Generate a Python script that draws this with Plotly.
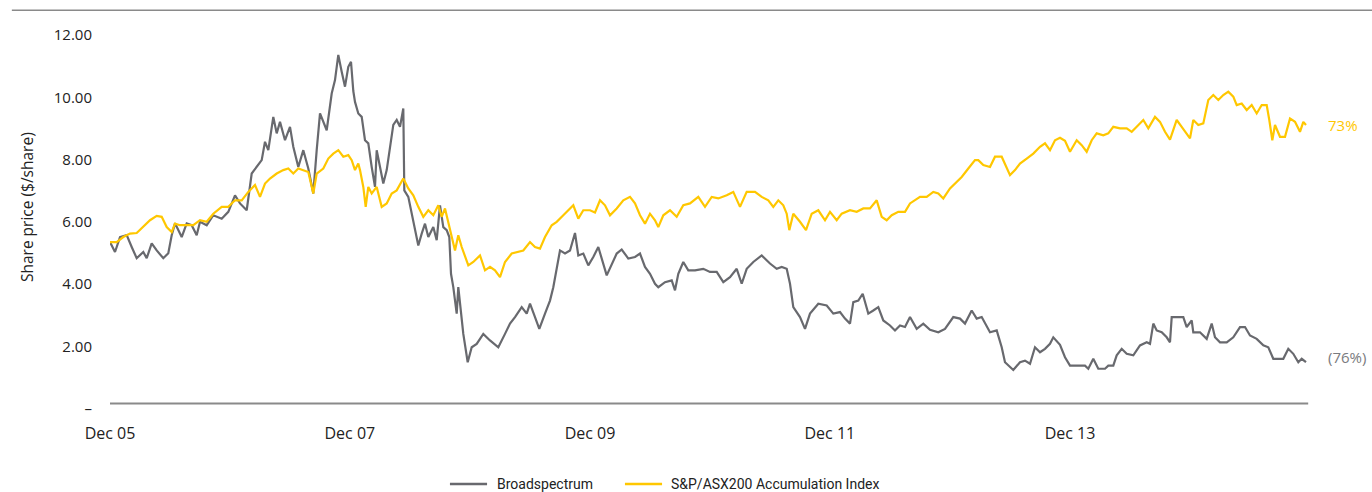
import pandas as pd
import plotly.graph_objects as go

# (months since Dec 2005, share price $/share)
broadspectrum = [
    (0, 5.35), (0.5, 5.03), (1.0, 5.51), (1.67, 5.57), (2.17, 5.19), (2.67, 4.83), (3.33, 5.03), (3.67, 4.83),
    (4.17, 5.31), (4.67, 5.08), (5.33, 4.83), (5.83, 4.99), (6.17, 5.57), (6.5, 5.95), (7.17, 5.51), (7.67, 5.95),
    (8.17, 5.89), (8.67, 5.57), (9.0, 6.00), (9.67, 5.89), (10.33, 6.21), (11.17, 6.10), (11.83, 6.32), (12.5, 6.85),
    (13.0, 6.59), (13.67, 6.37), (14.17, 7.55), (14.67, 7.76), (15.17, 7.98), (15.5, 8.57), (15.83, 8.30), (16.33, 9.37),
    (16.67, 8.84), (17.0, 9.21), (17.5, 8.62), (18.0, 9.05), (18.33, 8.41), (18.83, 7.76), (19.33, 8.30), (19.83, 7.71),
    (20.33, 6.91), (20.67, 8.30), (21.0, 9.48), (21.67, 8.94), (22.17, 10.12), (22.5, 10.55), (22.83, 11.36), (23.17, 10.82),
    (23.5, 10.34), (23.83, 10.98), (24.1, 11.14), (24.33, 10.2), (24.5, 9.85), (24.83, 9.48), (25.17, 9.37), (25.5, 8.62),
    (25.83, 8.52), (26.17, 7.76), (26.5, 7.12), (26.67, 8.30), (27.0, 7.76), (27.33, 7.23), (27.67, 7.66), (28.0, 8.41),
    (28.33, 9.11), (28.67, 9.27), (29.0, 9.05), (29.33, 9.64), (29.43, 7.01), (29.83, 6.80), (30.17, 6.26), (30.5, 5.67),
    (30.83, 5.24), (31.17, 5.62), (31.5, 5.94), (31.83, 5.51), (32.33, 5.83), (32.67, 5.41), (33.0, 6.53), (33.33, 5.83),
    (33.67, 5.73), (33.93, 5.51), (34.1, 4.33), (34.33, 3.90), (34.67, 3.05), (34.83, 3.90), (35.0, 3.37), (35.33, 2.40),
    (35.77, 1.49), (36.17, 1.97), (36.67, 2.08), (37.33, 2.40), (38.0, 2.19), (38.83, 1.97), (39.5, 2.40), (40.0, 2.73),
    (40.5, 2.94), (41.17, 3.26), (41.67, 3.05), (42.0, 3.37), (42.5, 2.94), (42.93, 2.56), (43.5, 3.05), (44.0, 3.47),
    (44.33, 3.90), (44.67, 4.55), (45.0, 5.08), (45.5, 4.98), (46.0, 5.08), (46.5, 5.64), (46.83, 4.92), (47.33, 4.98),
    (47.83, 4.60), (48.33, 4.87), (48.83, 5.19), (49.67, 4.28), (50.17, 4.66), (50.67, 4.98), (51.17, 5.11), (51.83, 4.82),
    (52.5, 4.87), (53.0, 4.98), (53.5, 4.55), (54.0, 4.33), (54.5, 4.01), (54.83, 3.90), (55.5, 4.06), (56.17, 4.12),
    (56.5, 3.80), (56.83, 4.33), (57.33, 4.71), (57.83, 4.44), (58.5, 4.44), (59.33, 4.49), (60.0, 4.39), (60.67, 4.39),
    (61.33, 4.06), (62.0, 4.22), (62.67, 4.49), (63.17, 4.01), (63.67, 4.49), (64.33, 4.71), (65.17, 4.92), (66.0, 4.66),
    (66.67, 4.49), (67.17, 4.55), (67.67, 4.49), (68.0, 4.01), (68.33, 3.26), (69.0, 2.94), (69.5, 2.56), (70.0, 3.05),
    (70.83, 3.37), (71.67, 3.31), (72.33, 3.05), (73.0, 3.10), (73.5, 2.89), (74.0, 2.73), (74.33, 3.42), (74.83, 3.47),
    (75.27, 3.69), (75.83, 3.05), (76.33, 3.15), (76.83, 3.26), (77.33, 2.83), (78.0, 2.67), (78.5, 2.51), (79.0, 2.67),
    (79.5, 2.62), (80.0, 2.94), (80.67, 2.56), (81.33, 2.73), (82.0, 2.53), (82.83, 2.45), (83.5, 2.56), (84.33, 2.94),
    (85.0, 2.89), (85.5, 2.73), (86.17, 3.15), (86.67, 2.89), (87.17, 2.94), (88.0, 2.45), (88.67, 2.51), (89.17, 1.97),
    (89.5, 1.49), (90.33, 1.24), (91.0, 1.49), (91.5, 1.54), (92.0, 1.44), (92.5, 1.97), (93.0, 1.81), (93.5, 1.92),
    (94.0, 2.08), (94.33, 2.29), (95.0, 2.05), (95.5, 1.65), (96.0, 1.38), (97.5, 1.38), (97.83, 1.28), (98.33, 1.60),
    (98.83, 1.28), (99.5, 1.28), (99.83, 1.38), (100.33, 1.38), (100.67, 1.71), (101.17, 1.92), (101.67, 1.76), (102.33, 1.71),
    (103.0, 2.03), (103.67, 2.13), (104.0, 2.08), (104.33, 2.73), (104.67, 2.51), (105.17, 2.45), (105.67, 2.29), (106.0, 2.13),
    (106.17, 2.94), (107.33, 2.94), (107.67, 2.62), (108.17, 2.83), (108.33, 2.45), (109.0, 2.45), (109.67, 2.24), (110.17, 2.73),
    (110.5, 2.29), (111.0, 2.13), (111.67, 2.13), (112.33, 2.29), (113.0, 2.62), (113.5, 2.62), (114.0, 2.35), (114.67, 2.24),
    (115.33, 2.03), (115.83, 1.97), (116.33, 1.60), (117.33, 1.60), (117.83, 1.92), (118.33, 1.76), (118.83, 1.49), (119.17, 1.60),
    (119.6, 1.49),
]

# (months since Dec 2005, S&P/ASX200 Accumulation Index rebased to $/share)
asx200 = [
    (0, 5.35), (0.67, 5.35), (1.33, 5.51), (2.0, 5.62), (2.67, 5.64), (3.33, 5.83), (4.0, 6.05), (4.67, 6.19),
    (5.17, 6.16), (5.67, 5.83), (6.17, 5.67), (6.5, 5.94), (7.0, 5.89), (7.67, 5.89), (8.33, 5.89), (9.0, 6.05),
    (9.67, 6.00), (10.33, 6.26), (11.17, 6.48), (11.83, 6.48), (12.5, 6.69), (13.17, 6.69), (13.83, 6.96), (14.5, 7.18),
    (15.0, 6.80), (15.5, 7.23), (16.0, 7.39), (16.67, 7.55), (17.33, 7.66), (17.83, 7.71), (18.33, 7.55), (18.83, 7.71),
    (19.33, 7.66), (19.83, 7.60), (20.33, 6.91), (20.67, 7.55), (21.33, 7.71), (21.83, 8.03), (22.33, 8.19), (22.83, 8.30),
    (23.33, 8.09), (23.83, 8.14), (24.17, 7.98), (24.5, 7.66), (24.83, 7.87), (25.0, 7.66), (25.33, 7.12), (25.57, 6.48),
    (25.83, 7.12), (26.17, 6.91), (26.67, 7.12), (27.17, 6.48), (27.67, 6.59), (28.17, 6.91), (28.67, 7.01), (29.33, 7.39),
    (29.83, 7.07), (30.33, 6.85), (30.83, 6.48), (31.33, 6.16), (31.83, 6.37), (32.33, 6.21), (32.83, 6.53), (33.17, 6.16),
    (33.5, 6.43), (33.83, 6.00), (34.17, 5.51), (34.5, 5.08), (34.83, 5.57), (35.17, 5.19), (35.83, 4.60), (36.33, 4.71),
    (37.0, 4.92), (37.5, 4.44), (38.0, 4.55), (38.5, 4.44), (39.0, 4.22), (39.5, 4.71), (40.17, 4.98), (40.83, 5.03),
    (41.33, 5.08), (42.0, 5.35), (42.5, 5.19), (43.0, 5.14), (43.5, 5.51), (44.17, 5.89), (44.67, 6.00), (45.33, 6.21),
    (45.83, 6.37), (46.33, 6.53), (46.83, 6.10), (47.33, 6.37), (48.0, 6.37), (48.5, 6.30), (49.0, 6.69), (49.5, 6.53),
    (50.0, 6.21), (50.67, 6.43), (51.33, 6.69), (52.0, 6.80), (52.5, 6.59), (53.0, 6.21), (53.5, 5.94), (54.0, 6.26),
    (54.5, 6.05), (54.83, 5.83), (55.33, 6.21), (56.0, 6.37), (56.67, 6.16), (57.33, 6.53), (58.0, 6.59), (58.83, 6.80),
    (59.5, 6.48), (60.17, 6.80), (60.83, 6.75), (61.67, 6.85), (62.33, 6.96), (63.0, 6.48), (63.67, 6.96), (64.5, 6.96),
    (65.17, 6.80), (65.83, 6.69), (66.33, 6.48), (66.83, 6.69), (67.33, 6.53), (67.67, 6.26), (67.93, 5.73), (68.33, 6.26),
    (69.0, 6.00), (69.6, 5.73), (70.17, 6.26), (70.83, 6.37), (71.5, 6.05), (72.0, 6.32), (72.67, 6.05), (73.17, 6.26),
    (74.0, 6.37), (74.67, 6.32), (75.33, 6.43), (76.0, 6.43), (76.67, 6.69), (77.17, 6.16), (77.67, 6.05), (78.17, 6.21),
    (78.83, 6.32), (79.5, 6.32), (80.0, 6.59), (80.5, 6.69), (81.0, 6.80), (81.67, 6.80), (82.33, 6.96), (82.83, 6.91),
    (83.33, 6.75), (84.0, 7.07), (84.67, 7.28), (85.17, 7.44), (85.83, 7.71), (86.5, 7.98), (86.83, 7.98), (87.33, 7.82),
    (88.0, 7.76), (88.5, 8.09), (89.17, 8.09), (89.67, 7.71), (90.0, 7.50), (90.5, 7.66), (91.0, 7.87), (91.67, 8.03),
    (92.33, 8.19), (93.0, 8.41), (93.5, 8.52), (94.0, 8.30), (94.5, 8.62), (95.0, 8.70), (95.5, 8.60), (96.0, 8.25),
    (96.67, 8.62), (97.17, 8.46), (97.67, 8.25), (98.17, 8.62), (98.67, 8.84), (99.33, 8.78), (99.83, 8.84), (100.33, 9.05),
    (101.0, 9.00), (101.67, 9.00), (102.17, 8.89), (102.67, 9.05), (103.33, 9.27), (103.83, 9.00), (104.5, 9.37), (105.0, 9.21),
    (105.5, 8.89), (106.0, 8.64), (106.67, 9.27), (107.17, 9.05), (107.5, 8.89), (108.0, 8.68), (108.33, 9.27), (108.83, 9.11),
    (109.33, 9.16), (109.83, 9.91), (110.33, 10.07), (110.83, 9.91), (111.33, 10.07), (111.83, 10.18), (112.33, 10.02), (112.67, 9.75),
    (113.17, 9.80), (113.67, 9.59), (114.17, 9.75), (114.67, 9.48), (115.17, 9.75), (115.67, 9.75), (115.93, 9.27), (116.23, 8.62),
    (116.5, 9.11), (117.0, 8.73), (117.5, 8.73), (118.0, 9.32), (118.5, 9.21), (119.0, 8.89), (119.33, 9.21), (119.6, 9.11),
]

tick_dates = ["2005-12-01", "2007-12-01", "2009-12-01", "2011-12-01", "2013-12-01"]
tick_text = ["Dec 05", "Dec 07", "Dec 09", "Dec 11", "Dec 13"]
y_ticks = [0, 2, 4, 6, 8, 10, 12]
y_tick_text = ["–", "2.00", "4.00", "6.00", "8.00", "10.00", "12.00"]
end_labels = {"Broadspectrum": "(76%)", "S&P/ASX200 Accumulation Index": "73%"}
y_title = "Share price ($/share)"

GREY = "#68696e"
YELLOW = "#ffc700"
TEXT = "#222222"
BASE = pd.Timestamp("2005-12-01")


def to_dates(months):
    return [BASE + pd.Timedelta(days=m * 30.4375) for m in months]


bs_m, bs_v = zip(*broadspectrum)
ax_m, ax_v = zip(*asx200)

series = [
    ("Broadspectrum", bs_m, bs_v, GREY),
    ("S&P/ASX200 Accumulation Index", ax_m, ax_v, YELLOW),
]

fig = go.Figure()
for name, m, v, col in series:
    fig.add_trace(go.Scatter(x=to_dates(m), y=v, mode="lines", name=name,
                             line=dict(color=col, width=2.2), showlegend=False))

x_end = BASE + pd.Timedelta(days=119.7 * 30.4375)

fig.update_layout(
    width=1372, height=492,
    margin=dict(l=110, r=65, t=30, b=80),
    paper_bgcolor="white", plot_bgcolor="white",
    font=dict(family="Open Sans", size=15, color=TEXT),
    showlegend=False,
    xaxis=dict(type="date", range=[BASE, x_end], tickvals=tick_dates, ticktext=tick_text,
               showgrid=False, zeroline=False, showline=False,
               ticks="outside", ticklen=7, tickcolor="rgba(0,0,0,0)",
               tickfont=dict(family="Open Sans", size=16, color=TEXT)),
    yaxis=dict(range=[-0.109, 12.16], tickvals=y_ticks, ticktext=y_tick_text,
               showgrid=False, zeroline=False, showline=False,
               ticks="outside", ticklen=14, tickcolor="rgba(0,0,0,0)",
               tickfont=dict(family="Open Sans", size=15, color=TEXT)),
)

# y-axis title
fig.add_annotation(x=-0.0693, xref="paper", y=0.5366, yref="paper", text=y_title, textangle=-90,
                   showarrow=False, xanchor="center", yanchor="middle",
                   font=dict(family="Open Sans", size=15.5, color=TEXT))

# x-axis baseline and top rule
fig.add_shape(type="line", xref="paper", yref="y", x0=0, x1=1.001, y0=0.16, y1=0.16,
              line=dict(color="#8a8a8a", width=2))
fig.add_shape(type="line", xref="paper", yref="paper", x0=-0.082, x1=1.06, y0=1.052, y1=1.052,
              line=dict(color="#8a8a8a", width=1.5))

# manual legend below the plot
legend_y = -0.1885
legend_pos = [(0.284, 0.315, 0.3216), (0.4302, 0.4612, 0.467)]
for (name, _, _, col), (lx0, lx1, tx) in zip(series, legend_pos):
    fig.add_shape(type="line", xref="paper", yref="paper", x0=lx0, x1=lx1, y0=legend_y, y1=legend_y,
                  line=dict(color=col, width=2.5))
    fig.add_annotation(x=tx, xref="paper", y=legend_y, yref="paper", text=name, showarrow=False,
                       xanchor="left", yanchor="middle", font=dict(family="Roboto", size=14, color=TEXT))

# end-of-series labels
fig.add_annotation(x=1.016, xref="paper", y=9.1, yref="y", text=end_labels["S&P/ASX200 Accumulation Index"],
                   showarrow=False, xanchor="left", font=dict(family="Open Sans", size=15, color=YELLOW))
fig.add_annotation(x=1.016, xref="paper", y=1.66, yref="y", text=end_labels["Broadspectrum"],
                   showarrow=False, xanchor="left", font=dict(family="Open Sans", size=15, color="#7a7b80"))

fig.write_html("out.html", config={"displayModeBar": False},
               post_script="document.body.style.margin='0px';document.body.style.overflow='hidden';")
